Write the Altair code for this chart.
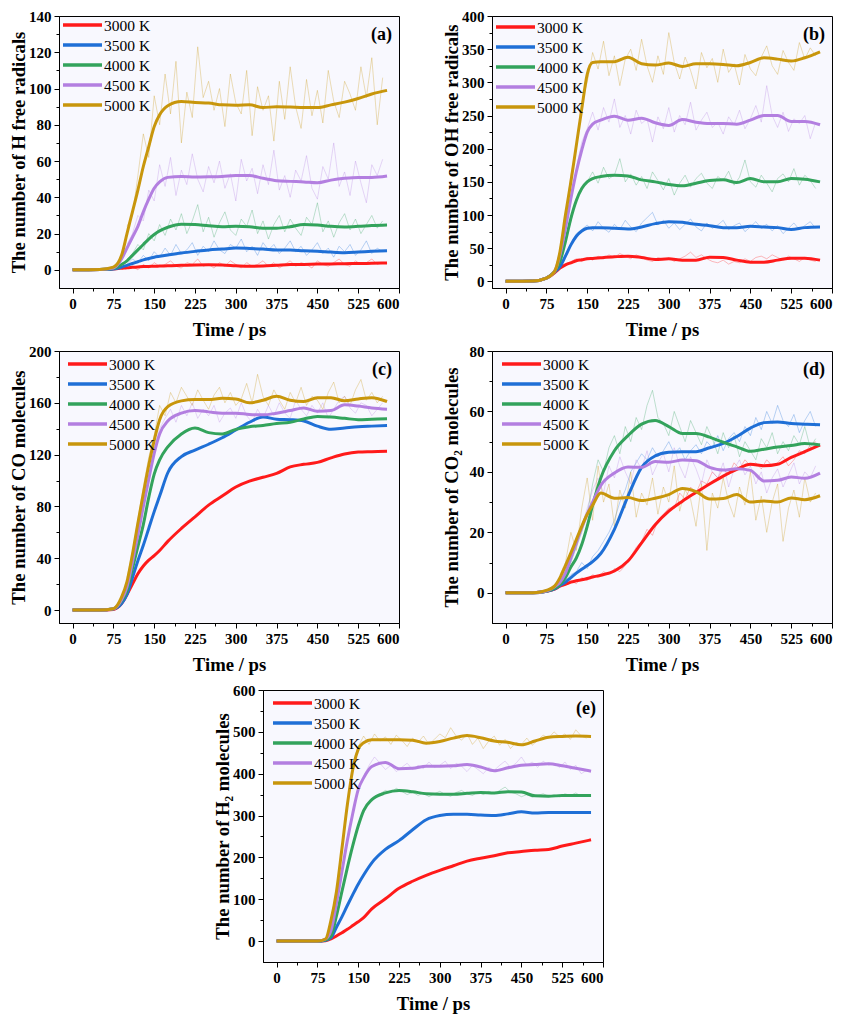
import altair as alt
import pandas as pd

TIME = [0, 50, 75, 90, 100, 110, 120, 130, 140, 150, 160, 175, 200, 225, 250,
        275, 300, 325, 350, 375, 400, 425, 450, 475, 500, 525, 550, 578]
RAW_TIME = list(range(100, 571, 10))
TEMPS = ["3000 K", "3500 K", "4000 K", "4500 K", "5000 K"]
COLORS = ["#FF1A1A", "#1F6FD6", "#33A35C", "#B37FE0", "#C8960C"]

# ---------- smoothed curves ----------
# (a) H free radicals
A3000 = [0, 0.2, 0.5, 0.9, 1.2, 1.4, 1.6, 1.8, 1.9, 2.0, 2.1, 2.3, 2.5, 2.7, 2.8, 2.7, 2.3, 2.0, 2.1, 2.5, 2.9, 3.0, 3.2, 3.3, 3.4, 3.5, 3.6, 3.8]
A3500 = [0, 0.2, 0.5, 1.5, 2.5, 3.5, 4.5, 5.5, 6.3, 7.0, 7.5, 8.2, 9.3, 10.2, 11.0, 11.5, 12.0, 11.8, 11.5, 11.0, 11.0, 10.5, 10.3, 9.8, 9.5, 9.8, 10.2, 10.5]
A4000 = [0, 0.2, 0.7, 3, 5, 8, 11, 14, 17, 19.5, 21.5, 23.5, 25.2, 25, 24.3, 23.8, 24, 23.8, 23, 23, 23.8, 25, 24.7, 24, 23.7, 24, 24.5, 24.8]
A4500 = [0, 0.2, 1, 6, 12, 18, 24, 32, 39, 45, 48.5, 51, 51.5, 51.2, 51.3, 51.5, 52, 52, 50.5, 49.2, 48.8, 48.5, 48, 49.5, 50.5, 51, 51, 51.8]
A5000 = [0, 0.2, 1.5, 8, 20, 32, 44, 57, 68, 79, 85.5, 90.5, 92.8, 92.3, 92, 91, 90.8, 91, 89.5, 90, 89.8, 89.5, 89.5, 91, 92.5, 94.5, 97, 99]

# (b) OH free radicals
B3000 = [0, 0.5, 5, 13, 20, 25, 28, 31, 32.5, 34, 34.5, 35.5, 37, 38, 36, 33, 34, 32, 32, 36.5, 36, 32, 29, 29, 32, 35, 35, 32]
B3500 = [0, 0.5, 5, 14, 22, 38, 55, 68, 76, 80, 81, 81, 80, 79, 82, 87, 90, 89, 86, 84, 81, 81, 83, 82, 81, 78, 81, 82]
B4000 = [0, 0.5, 5, 15, 30, 60, 95, 122, 140, 150, 155, 158, 160, 159, 153, 150, 146, 144, 148, 152, 153, 149, 155, 150, 150, 155, 154, 150]
B4500 = [0, 0.5, 5, 15, 40, 80, 125, 165, 198, 225, 237, 243, 249, 243, 246, 239, 235, 244, 240, 238, 238, 237, 243, 250, 250, 241, 241, 236]
B5000 = [0, 0.5, 5, 15, 45, 100, 150, 205, 260, 312, 330, 331, 331, 338, 328, 326, 329, 324, 328, 328, 327, 325, 330, 337, 335, 332, 337, 346]

# (c) CO molecules
C3000 = [0, 0, 0.5, 5, 12, 20, 28, 34, 38.5, 42, 46, 53, 63, 72, 81, 88, 95, 99.5, 102.5, 105.5, 110.5, 112.5, 114, 117.5, 120.5, 122, 122.3, 122.6]
C3500 = [0, 0, 0.8, 5, 12, 25, 38, 50, 63, 76, 88, 106, 118.5, 123.5, 128, 133, 139, 145, 149, 147.4, 147, 146, 142, 139.5, 140.5, 141.5, 142, 142.5]
C4000 = [0, 0, 1, 7, 15, 32, 49, 66, 87, 105, 116, 126, 136, 140.5, 137, 136, 139.5, 141.5, 142.5, 144, 145, 147.5, 149.5, 149, 148, 147, 147.3, 147.6]
C4500 = [0, 0, 1, 8, 18, 37, 58, 80, 101, 121, 136, 146, 152, 154, 153, 152, 152, 151, 150.7, 152, 154, 156, 153.5, 154, 158.5, 157.5, 156, 155]
C5000 = [0, 0, 1, 10, 22, 43, 67, 90, 112, 131, 147, 157, 161.5, 162.5, 162.5, 163.5, 163, 160, 162, 165, 162, 161, 164, 164, 161.5, 163, 164, 161]

# (d) CO2 molecules
D3000 = [0, 0, 0.5, 1.2, 2.2, 2.8, 3.5, 4, 4.3, 4.7, 5.2, 5.8, 7.2, 10.5, 16.5, 22.5, 27, 30.3, 33.2, 36, 38.6, 40.8, 42.5, 42, 42.5, 44.8, 46.7, 48.9]
D3500 = [0, 0, 0.5, 1.3, 2.4, 3.5, 5, 6.5, 7.8, 9, 10.3, 13, 21, 32, 41.5, 45.3, 46.5, 46.7, 46.7, 48, 49.4, 51.7, 54.5, 56.3, 56.5, 56, 55.8, 55.6]
D4000 = [0, 0, 0.5, 1.5, 2.8, 5, 8.5, 11.5, 16, 22, 29, 38, 47, 52, 55.8, 57, 55, 52.7, 52.7, 51.5, 49.8, 48.3, 46.8, 47.5, 48.2, 48.7, 49.4, 48.9]
D4500 = [0, 0, 0.6, 2, 3.5, 6.5, 11.5, 16.5, 21.5, 26, 30, 35.5, 39.6, 41.6, 41.5, 43.4, 43.2, 43.9, 43.7, 41.5, 40.6, 41, 40.5, 37, 37.2, 38.3, 37.9, 39.6]
D5000 = [0, 0, 0.8, 2.2, 5, 9, 13.2, 17.6, 22, 26, 29, 33, 31.3, 31.5, 30.5, 31.3, 32.5, 34.5, 33.5, 31, 31.2, 32.5, 30, 30.4, 30, 31.4, 30.8, 32.1]

# (e) H2 molecules
E3000 = [0, 0, 0, 1, 5, 12, 20, 28, 37, 46, 56, 77, 101, 126, 143, 157, 169, 180, 191, 198, 204, 211, 214, 217, 219, 227, 234, 242]
E3500 = [0, 0, 0, 2, 8, 33, 58, 85, 111, 136, 158, 187, 219, 240, 266, 290, 300, 303, 303, 301, 300, 304, 309, 306, 307, 307, 307, 307]
E4000 = [0, 0, 0, 3, 12, 60, 118, 175, 228, 275, 312, 338, 354, 360, 357, 352, 351, 351, 353, 355, 354, 357, 356, 347, 346, 348, 348, 348]
E4500 = [0, 0, 0, 5, 25, 90, 165, 240, 305, 362, 390, 417, 427, 412, 413, 418, 418, 419, 422, 416, 407, 414, 420, 422, 424, 419, 413, 406]
E5000 = [0, 0, 0, 5, 50, 118, 220, 325, 410, 458, 474, 481, 481, 481, 480, 473, 477, 485, 491, 486, 478, 475, 469, 478, 487, 489, 490, 489]

# ---------- raw (unsmoothed) traces, read every 10 ps from 100 ps ----------
R_A3000 = [1, 2, 0, 3, 1, 4, 2, 3, 5, 2, 1, 4, 3, 6, 2, 3, 1, 4, 2, 5, 3, 1, 4, 2, 3, 5, 2, 4, 1, 3, 5, 2, 4, 3, 1, 5, 3, 2, 4, 6, 3, 2, 5, 3, 4, 6, 3, 4]
R_A3500 = [3, 6, 4, 8, 5, 10, 7, 12, 8, 14, 9, 11, 15, 8, 13, 10, 16, 11, 9, 14, 12, 17, 10, 13, 8, 15, 11, 14, 9, 12, 16, 10, 13, 8, 11, 15, 9, 12, 7, 13, 10, 14, 8, 11, 16, 9, 12, 10]
R_A4000 = [6, 9, 14, 11, 20, 16, 25, 19, 28, 22, 31, 20, 27, 36, 21, 29, 18, 26, 32, 22, 19, 28, 24, 33, 20, 27, 17, 25, 30, 21, 28, 23, 19, 29, 25, 37, 21, 27, 18, 26, 31, 22, 28, 20, 25, 30, 23, 27]
R_A4500 = [14, 20, 30, 27, 44, 38, 58, 46, 62, 41, 55, 47, 64, 50, 43, 57, 48, 60, 45, 53, 38, 61, 49, 56, 42, 58, 47, 66, 44, 52, 40, 55, 49, 63, 45, 39, 57, 50, 70, 46, 54, 41, 60, 48, 37, 58, 52, 61]
R_A5000 = [24, 30, 52, 75, 62, 96, 80, 108, 86, 115, 70, 98, 84, 123, 95, 104, 88, 100, 79, 108, 92, 86, 110, 74, 101, 88, 96, 71, 104, 83, 112, 90, 78, 105, 85, 99, 81, 110, 93, 84, 104, 97, 88, 112, 95, 117, 80, 106]

R_B3000 = [20, 26, 30, 34, 30, 36, 32, 38, 34, 40, 36, 42, 38, 34, 40, 36, 32, 30, 36, 33, 35, 30, 34, 38, 44, 36, 40, 34, 30, 28, 32, 26, 30, 28, 34, 30, 36, 38, 34, 40, 36, 32, 38, 34, 30, 36, 32, 30]
R_B3500 = [24, 40, 56, 72, 78, 85, 76, 90, 80, 74, 86, 78, 92, 82, 75, 88, 96, 104, 85, 92, 80, 88, 78, 86, 94, 82, 76, 88, 80, 85, 92, 78, 84, 88, 75, 82, 90, 80, 86, 76, 84, 72, 80, 88, 78, 84, 90, 80]
R_B4000 = [32, 62, 90, 125, 138, 150, 165, 148, 172, 155, 160, 185, 150, 162, 145, 158, 140, 165, 152, 138, 155, 130, 148, 160, 142, 155, 163, 148, 140, 158, 152, 166, 145, 157, 183, 150, 142, 160, 148, 135, 155, 162, 150, 170, 145, 160, 152, 140]
R_B4500 = [42, 85, 120, 170, 210, 230, 255, 228, 262, 240, 275, 232, 250, 222, 258, 238, 245, 210, 248, 230, 262, 225, 250, 236, 270, 228, 243, 255, 232, 240, 222, 248, 236, 258, 230, 245, 265, 240, 295, 250, 232, 255, 226, 245, 238, 250, 215, 240]
R_B5000 = [50, 95, 160, 200, 270, 300, 345, 320, 362, 310, 340, 295, 335, 350, 318, 365, 325, 300, 340, 312, 375, 330, 305, 338, 318, 290, 345, 322, 336, 300, 350, 315, 328, 296, 342, 320, 310, 338, 355, 325, 312, 348, 330, 318, 360, 335, 352, 340]

R_C4500 = [20, 38, 60, 82, 104, 124, 140, 148, 155, 145, 158, 150, 160, 148, 155, 150, 158, 145, 152, 156, 148, 160, 150, 145, 155, 148, 158, 150, 160, 152, 148, 162, 155, 150, 158, 152, 160, 148, 155, 162, 165, 156, 152, 160, 158, 150, 155, 160]
R_C5000 = [25, 45, 70, 95, 118, 135, 158, 150, 168, 160, 172, 165, 158, 170, 162, 155, 166, 172, 160, 168, 158, 163, 175, 160, 182, 165, 158, 170, 162, 155, 168, 160, 172, 158, 165, 162, 155, 168, 176, 160, 165, 158, 170, 178, 162, 168, 160, 165]

R_D3000 = [2, 3, 4, 3, 5, 4, 6, 5, 7, 6, 8, 7, 9, 12, 15, 17, 21, 19, 24, 26, 28, 28, 33, 31, 35, 33, 37, 36, 40, 38, 41, 39, 43, 41, 44, 42, 43, 41, 44, 42, 43, 45, 42, 44, 47, 46, 49, 50]
R_D3500 = [3, 4, 6, 7, 10, 8, 12, 14, 17, 20, 24, 30, 34, 40, 43, 46, 44, 48, 45, 47, 50, 46, 48, 44, 47, 49, 46, 50, 48, 52, 47, 51, 53, 50, 55, 52, 58, 54, 60, 56, 62, 57, 55, 59, 53, 57, 60, 55]
R_D4000 = [3, 6, 10, 15, 20, 26, 36, 44, 40, 48, 52, 46, 55, 50, 58, 54, 62, 67, 58, 56, 52, 60, 55, 50, 57, 53, 49, 55, 51, 46, 53, 48, 52, 45, 50, 47, 44, 51, 48, 53, 46, 50, 47, 52, 49, 55, 48, 51]
R_D4500 = [4, 8, 12, 18, 22, 28, 34, 38, 33, 42, 38, 45, 40, 36, 44, 41, 47, 39, 43, 46, 40, 48, 42, 38, 45, 41, 36, 44, 40, 38, 43, 35, 41, 44, 39, 42, 36, 40, 33, 38, 41, 35, 39, 43, 36, 40, 38, 42]
R_D5000 = [6, 10, 20, 14, 28, 38, 24, 42, 30, 36, 22, 34, 28, 40, 25, 33, 29, 38, 26, 35, 30, 42, 27, 34, 31, 22, 36, 14, 33, 28, 38, 30, 25, 35, 29, 40, 24, 32, 20, 30, 36, 17, 28, 34, 25, 38, 30, 33]

R_E4000 = [13, 62, 120, 178, 230, 278, 315, 330, 345, 352, 360, 355, 365, 358, 350, 356, 348, 354, 345, 352, 358, 350, 346, 355, 360, 352, 348, 356, 350, 358, 352, 360, 368, 356, 352, 345, 350, 344, 348, 352, 346, 350, 345, 352, 348, 354, 346, 350]
R_E4500 = [28, 92, 168, 245, 310, 365, 395, 420, 440, 425, 410, 420, 405, 415, 425, 410, 420, 412, 428, 415, 420, 430, 412, 425, 418, 405, 420, 410, 400, 415, 408, 420, 430, 415, 425, 440, 420, 428, 415, 430, 420, 425, 415, 428, 410, 420, 400, 408]
R_E5000 = [55, 120, 225, 330, 420, 465, 490, 470, 495, 478, 488, 470, 492, 480, 465, 485, 475, 490, 470, 482, 495, 486, 510, 490, 480, 495, 470, 485, 460, 478, 490, 468, 482, 460, 475, 470, 485, 468, 480, 492, 485, 500, 488, 495, 482, 505, 490, 485]

SERIF = "Liberation Serif"
W, H = 340, 272


def panel(series, raw, ytitle, ydom, ystep_minor, ystep_major, tag, leg_x, leg_y):
    rows = []
    for lab, vals in zip(TEMPS, series):
        for t, v in zip(TIME, vals):
            rows.append({"t": t, "v": v, "T": lab})
    df = pd.DataFrame(rows)
    rrows = []
    for lab, vals in zip(TEMPS, raw):
        if vals is None:
            continue
        for t, v in zip(RAW_TIME, vals):
            rrows.append({"t": t, "v": v, "T": lab})
    rdf = pd.DataFrame(rrows)

    color = alt.Color("T:N", scale=alt.Scale(domain=TEMPS, range=COLORS), legend=None)

    xvals = [i * 37.5 for i in range(17)]
    yvals = []
    k = 0
    while k * ystep_minor <= ydom[1] + 1e-9:
        yvals.append(k * ystep_minor)
        k += 1

    xaxis = alt.Axis(
        values=xvals,
        labelExpr="datum.value % 75 === 0 ? datum.label : ''",
        tickSize={"condition": {"test": "datum.value % 75 === 0", "value": 5}, "value": 3},
        title="Time / ps", titlePadding=9, labelPadding=3, grid=False,
    )
    yaxis = alt.Axis(
        values=yvals,
        labelExpr=f"datum.value % {ystep_major} === 0 ? datum.label : ''",
        tickSize={"condition": {"test": f"datum.value % {ystep_major} === 0", "value": 5}, "value": 3},
        title=ytitle, titlePadding=1, labelPadding=3, minExtent=30, maxExtent=30, grid=False,
    )
    xenc = alt.X("t:Q", scale=alt.Scale(domain=[-25, 600], nice=False, zero=False), axis=xaxis)
    yenc = alt.Y("v:Q", scale=alt.Scale(domain=ydom, nice=False, zero=False), axis=yaxis)

    raw_lines = alt.Chart(rdf).mark_line(strokeWidth=1, opacity=0.3, clip=True).encode(
        x=xenc, y=yenc, color=color, order=alt.Order("t:Q")
    )
    lines = alt.Chart(df).mark_line(strokeWidth=3, interpolate="monotone", clip=True).encode(
        x=xenc, y=yenc, color=color, order=alt.Order("t:Q")
    )
    data_layer = alt.layer(raw_lines, lines)

    leg = pd.DataFrame({"T": TEMPS, "i": list(range(len(TEMPS)))})
    ly = alt.Y("i:Q", scale=alt.Scale(domain=[0, 4], range=[leg_y, leg_y + 80]), axis=None)
    leg_rules = alt.Chart(leg).mark_rule(strokeWidth=3.5).encode(
        x=alt.value(leg_x), x2=alt.value(leg_x + 39), y=ly, color=color
    )
    leg_text = alt.Chart(leg).mark_text(
        align="left", baseline="middle", font=SERIF, fontSize=15.5, color="black", dy=1
    ).encode(x=alt.value(leg_x + 41), y=ly, text="T:N")

    tag_df = pd.DataFrame({"s": [tag]})
    tag_text = alt.Chart(tag_df).mark_text(
        align="right", baseline="middle", font=SERIF, fontSize=18, fontWeight="bold", color="black"
    ).encode(x=alt.value(W - 7), y=alt.value(19), text="s:N")

    return alt.layer(data_layer, leg_rules, leg_text, tag_text).resolve_scale(y="independent").properties(
        width=W, height=H
    )


pa = panel([A3000, A3500, A4000, A4500, A5000], [R_A3000, R_A3500, R_A4000, R_A4500, R_A5000],
           "The number of H free radicals", [-10, 140], 10, 20, "(a)", 4, 9)
pb = panel([B3000, B3500, B4000, B4500, B5000], [R_B3000, R_B3500, R_B4000, R_B4500, R_B5000],
           "The number of OH free radicals", [-10, 400], 25, 50, "(b)", 4, 11)
pc = panel([C3000, C3500, C4000, C4500, C5000], [None, None, None, R_C4500, R_C5000],
           "The number of CO molecules", [-10, 200], 20, 40, "(c)", 9, 13)
pd_ = panel([D3000, D3500, D4000, D4500, D5000], [R_D3000, R_D3500, R_D4000, R_D4500, R_D5000],
            "The number of CO\u2082 molecules", [-10, 80], 10, 20, "(d)", 10, 13)
pe = panel([E3000, E3500, E4000, E4500, E5000], [None, None, R_E4000, R_E4500, R_E5000],
           "The number of H\u2082 molecules", [-50, 600], 50, 100, "(e)", 10, 13)

spacer = alt.Chart(pd.DataFrame({"z": [0]})).mark_point(opacity=0).properties(
    width=62, height=10, view=alt.ViewBackground(stroke="transparent", fill="transparent")
)

row1 = alt.hconcat(pa, pb, spacing=41)
row2 = alt.hconcat(pc, pd_, spacing=41)
row3 = alt.hconcat(spacer, pe, spacing=90)
top = alt.vconcat(row1, row2, spacing=3)
chart = alt.vconcat(top, row3, spacing=7).properties(
    padding={"left": 0, "top": 0, "right": 0, "bottom": 0}
).configure_view(
    stroke="black", strokeWidth=1, fill="#F8F8FE"
).configure_axis(
    labelFont=SERIF, titleFont=SERIF, labelFontSize=15, titleFontSize=18.7,
    labelFontWeight="bold", titleFontWeight="bold", labelColor="black", titleColor="black",
    tickColor="black", domainColor="black", tickWidth=1, domainWidth=1,
)

chart.save("out.html", embed_options={"renderer": "svg", "actions": False})
